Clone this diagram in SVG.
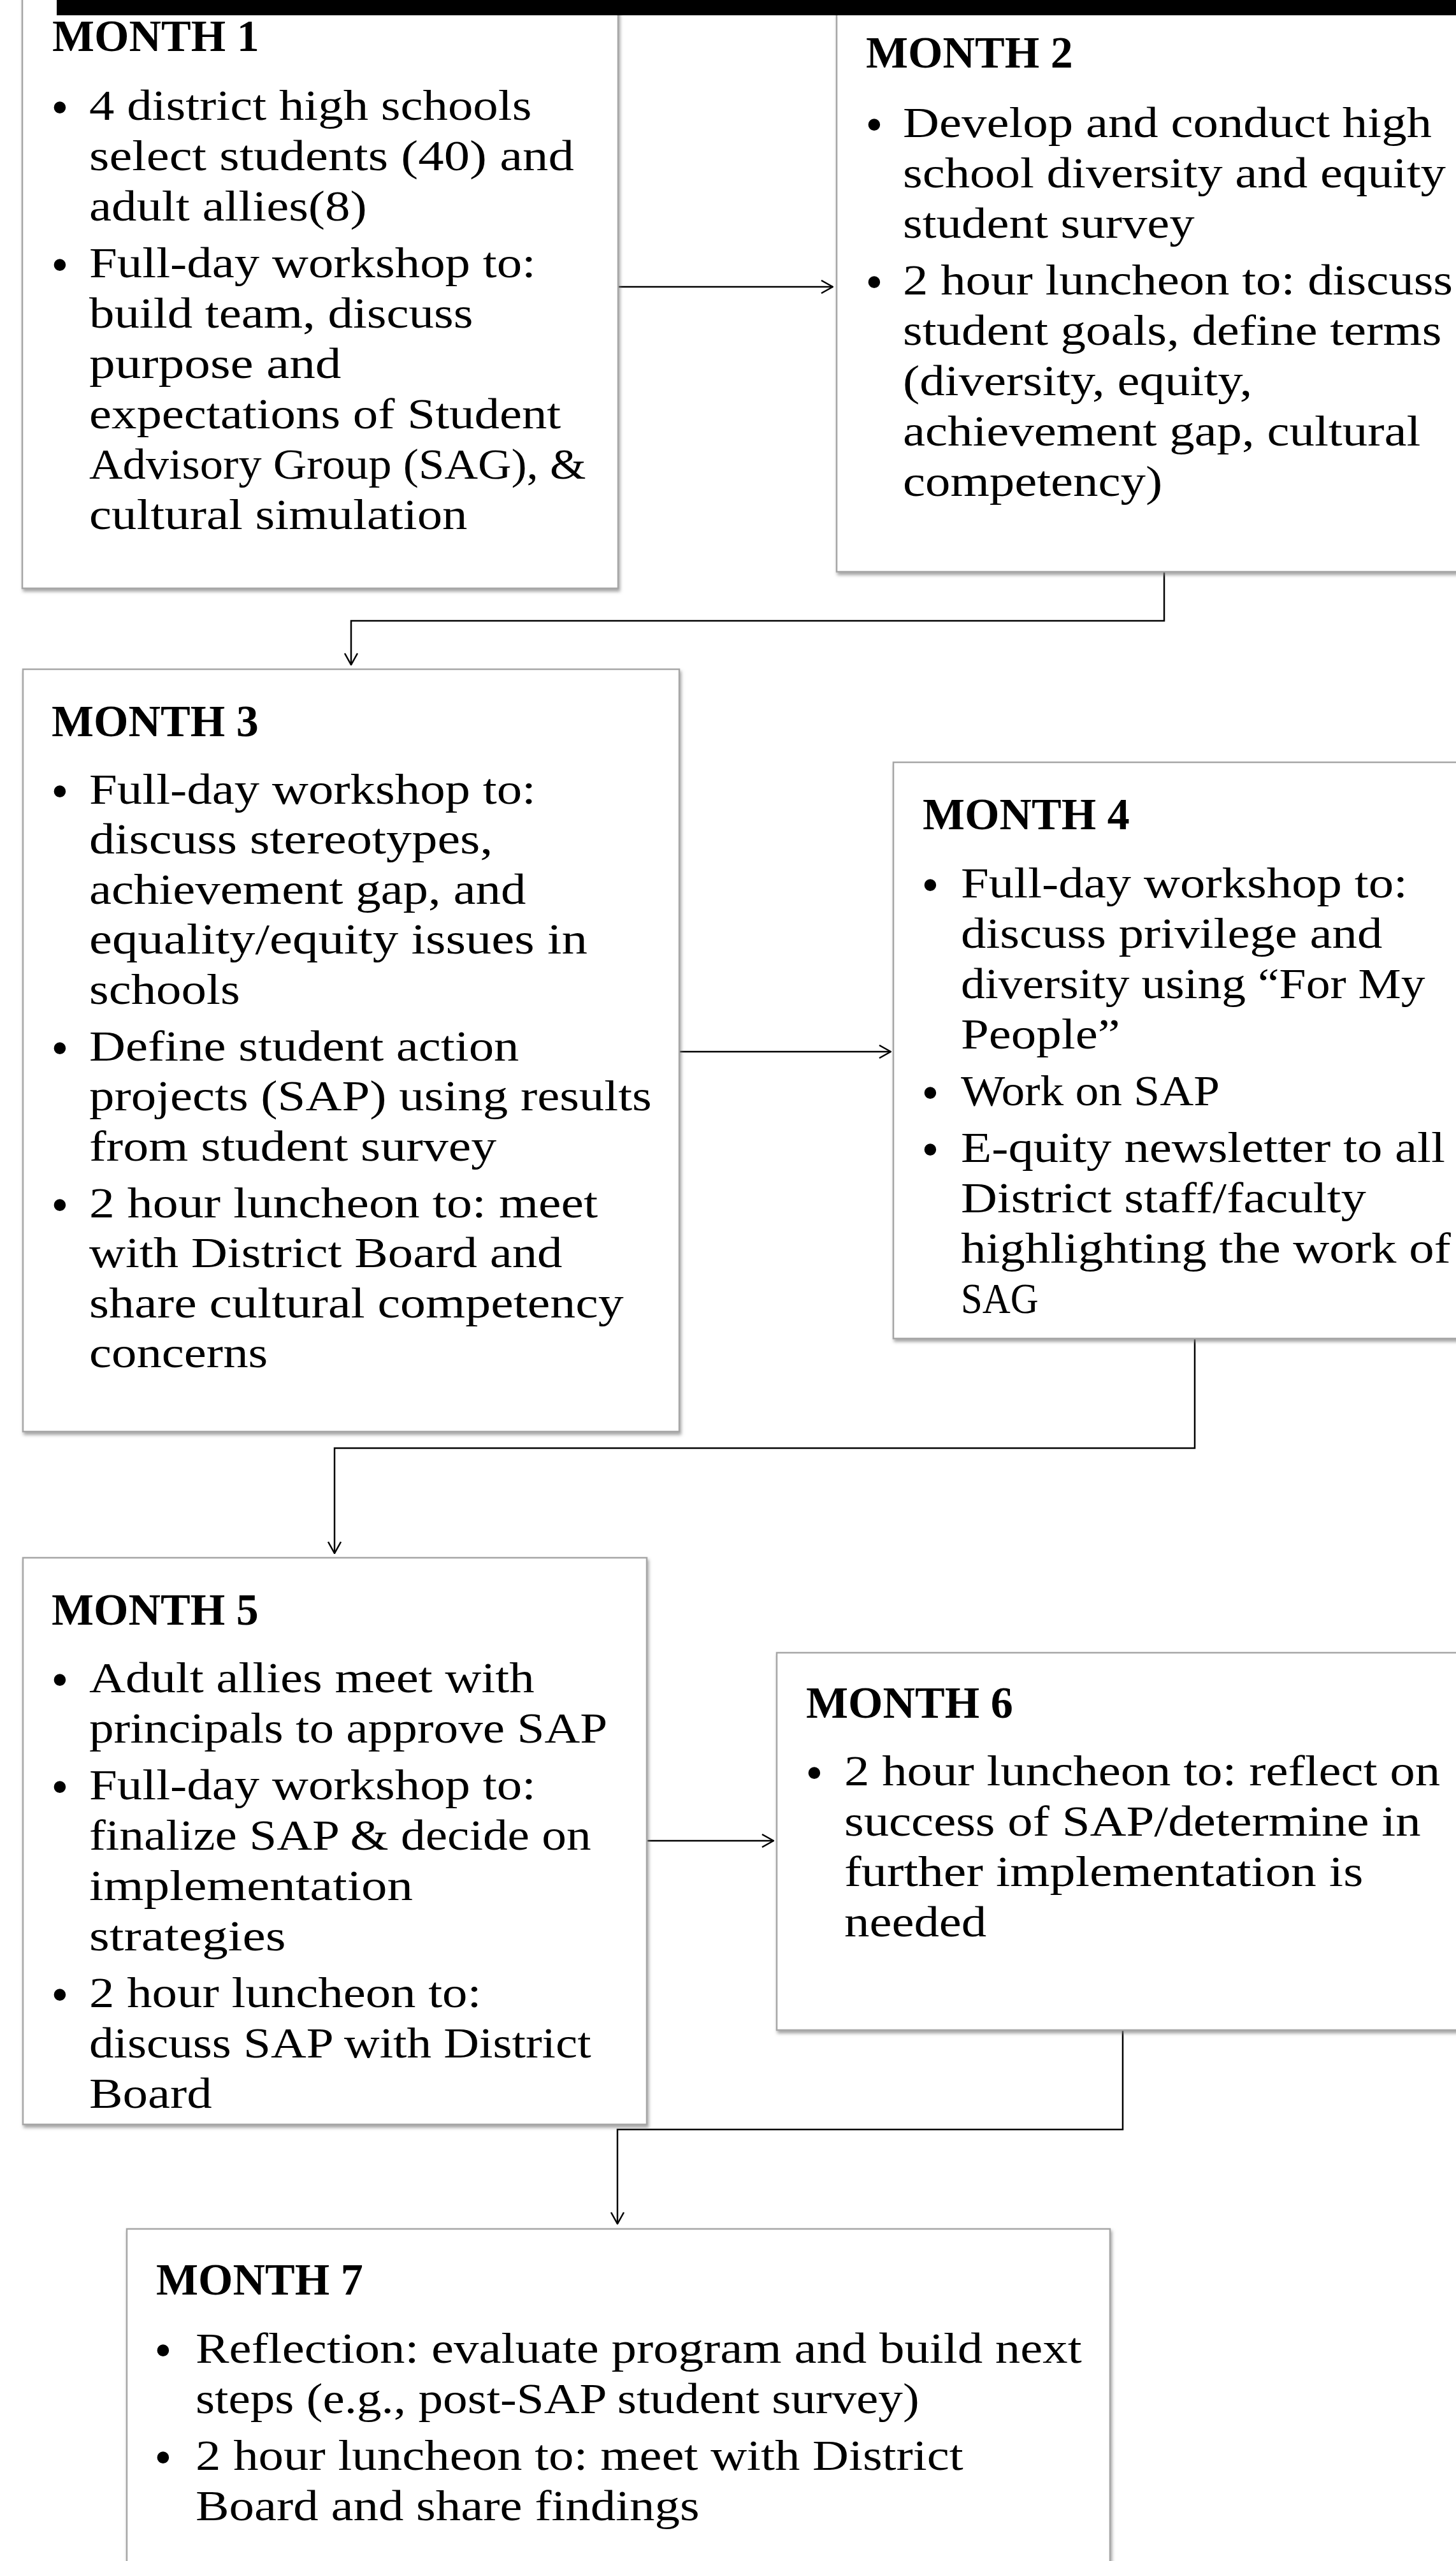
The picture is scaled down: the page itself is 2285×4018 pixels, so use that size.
<svg xmlns="http://www.w3.org/2000/svg" width="2285" height="4018" viewBox="0 0 2285 4018">
<defs>
<style>
.box{fill:#fff;stroke:#a6a6a6;stroke-width:2.5;filter:url(#sh)}
.t{font-family:"Liberation Serif","Times New Roman",serif;font-weight:bold;font-size:70px;fill:#000}
.b{font-family:"Liberation Serif","Times New Roman",serif;font-size:68px;fill:#000}
.dot{font-family:"Liberation Serif","Times New Roman",serif;font-size:78px;fill:#000;text-anchor:middle}
.c{fill:none;stroke:#000;stroke-width:2.5;marker-end:url(#ah)}
</style>
<filter id="sh" x="-5%" y="-5%" width="115%" height="115%">
<feDropShadow dx="2" dy="4" stdDeviation="2.5" flood-color="#7f7f7f" flood-opacity="0.7"/>
</filter>
<marker id="ah" viewBox="0 0 20 22" refX="19" refY="11" markerWidth="20" markerHeight="22" markerUnits="userSpaceOnUse" orient="auto">
<path d="M1,1 L19,11 L1,21" fill="none" stroke="#000" stroke-width="2.5"/>
</marker>
</defs>
<rect width="2285" height="4018" fill="#fff"/>

<g id="connectors">
<path class="c" d="M970,450 H1307"/>
<path class="c" d="M1827,897 V974 H551 V1043"/>
<path class="c" d="M1066,1650 H1398"/>
<path class="c" d="M1875,2100 V2272 H525 V2437"/>
<path class="c" d="M1015,2888 H1214"/>
<path class="c" d="M1762,3185 V3341 H969 V3489"/>
</g>

<g id="month1">
<rect class="box" x="35" y="-20" width="935" height="943"/>
<text class="t" x="82" y="80">MONTH 1</text>
<text class="dot" x="94" y="195">•</text>
<text class="dot" x="94" y="442">•</text>
<text class="b" transform="translate(140 0) scale(1.16 1)"><tspan x="0" y="188">4 district high schools</tspan><tspan x="0" y="267" textLength="656" lengthAdjust="spacingAndGlyphs">select students (40) and</tspan><tspan x="0" y="346">adult allies(8)</tspan><tspan x="0" y="435">Full-day workshop to:</tspan><tspan x="0" y="514">build team, discuss</tspan><tspan x="0" y="593" textLength="341" lengthAdjust="spacingAndGlyphs">purpose and</tspan><tspan x="0" y="672">expectations of Student</tspan><tspan x="0" y="751" textLength="672" lengthAdjust="spacingAndGlyphs">Advisory Group (SAG), &amp;</tspan><tspan x="0" y="830">cultural simulation</tspan></text>
</g>

<g id="month2">
<rect class="box" x="1313" y="-20" width="1000" height="917"/>
<text class="t" x="1359" y="106">MONTH 2</text>
<text class="dot" x="1372" y="222">•</text>
<text class="dot" x="1372" y="469">•</text>
<text class="b" transform="translate(1417 0) scale(1.16 1)"><tspan x="0" y="215">Develop and conduct high</tspan><tspan x="0" y="294">school diversity and equity</tspan><tspan x="0" y="373">student survey</tspan><tspan x="0" y="462">2 hour luncheon to: discuss</tspan><tspan x="0" y="541">student goals, define terms</tspan><tspan x="0" y="620">(diversity, equity,</tspan><tspan x="0" y="699">achievement gap, cultural</tspan><tspan x="0" y="778">competency)</tspan></text>
</g>

<g id="month3">
<rect class="box" x="36" y="1050" width="1030" height="1196"/>
<text class="t" x="81" y="1155">MONTH 3</text>
<text class="dot" x="94" y="1268">•</text>
<text class="dot" x="94" y="1671">•</text>
<text class="dot" x="94" y="1917">•</text>
<text class="b" transform="translate(140 0) scale(1.16 1)"><tspan x="0" y="1261">Full-day workshop to:</tspan><tspan x="0" y="1339.5" textLength="546" lengthAdjust="spacingAndGlyphs">discuss stereotypes,</tspan><tspan x="0" y="1418">achievement gap, and</tspan><tspan x="0" y="1496.5" textLength="674" lengthAdjust="spacingAndGlyphs">equality/equity issues in</tspan><tspan x="0" y="1575">schools</tspan><tspan x="0" y="1664">Define student action</tspan><tspan x="0" y="1742.5">projects (SAP) using results</tspan><tspan x="0" y="1821" textLength="551" lengthAdjust="spacingAndGlyphs">from student survey</tspan><tspan x="0" y="1910" textLength="688" lengthAdjust="spacingAndGlyphs">2 hour luncheon to: meet</tspan><tspan x="0" y="1988.5">with District Board and</tspan><tspan x="0" y="2067" textLength="723" lengthAdjust="spacingAndGlyphs">share cultural competency</tspan><tspan x="0" y="2145.5">concerns</tspan></text>
</g>

<g id="month4">
<rect class="box" x="1402" y="1196" width="910" height="904"/>
<text class="t" x="1448" y="1301">MONTH 4</text>
<text class="dot" x="1460" y="1415">•</text>
<text class="dot" x="1460" y="1741">•</text>
<text class="dot" x="1460" y="1830">•</text>
<text class="b" transform="translate(1508 0) scale(1.16 1)"><tspan x="0" y="1408">Full-day workshop to:</tspan><tspan x="0" y="1487">discuss privilege and</tspan><tspan x="0" y="1566" textLength="628" lengthAdjust="spacingAndGlyphs">diversity using “For My</tspan><tspan x="0" y="1645">People”</tspan><tspan x="0" y="1734" textLength="350" lengthAdjust="spacingAndGlyphs">Work on SAP</tspan><tspan x="0" y="1823">E-quity newsletter to all</tspan><tspan x="0" y="1902">District staff/faculty</tspan><tspan x="0" y="1981">highlighting the work of</tspan><tspan x="0" y="2060" textLength="105" lengthAdjust="spacingAndGlyphs">SAG</tspan></text>
</g>

<g id="month5">
<rect class="box" x="36" y="2444" width="979" height="889"/>
<text class="t" x="81" y="2549">MONTH 5</text>
<text class="dot" x="94" y="2662">•</text>
<text class="dot" x="94" y="2830">•</text>
<text class="dot" x="94" y="3156">•</text>
<text class="b" transform="translate(140 0) scale(1.16 1)"><tspan x="0" y="2655">Adult allies meet with</tspan><tspan x="0" y="2734" textLength="701" lengthAdjust="spacingAndGlyphs">principals to approve SAP</tspan><tspan x="0" y="2823">Full-day workshop to:</tspan><tspan x="0" y="2902" textLength="679" lengthAdjust="spacingAndGlyphs">finalize SAP &amp; decide on</tspan><tspan x="0" y="2981" textLength="438" lengthAdjust="spacingAndGlyphs">implementation</tspan><tspan x="0" y="3060" textLength="266" lengthAdjust="spacingAndGlyphs">strategies</tspan><tspan x="0" y="3149">2 hour luncheon to:</tspan><tspan x="0" y="3228" textLength="679" lengthAdjust="spacingAndGlyphs">discuss SAP with District</tspan><tspan x="0" y="3307">Board</tspan></text>
</g>

<g id="month6">
<rect class="box" x="1219" y="2593" width="1093" height="592"/>
<text class="t" x="1265" y="2695">MONTH 6</text>
<text class="dot" x="1278" y="2808">•</text>
<text class="b" transform="translate(1325 0) scale(1.16 1)"><tspan x="0" y="2801">2 hour luncheon to: reflect on</tspan><tspan x="0" y="2880">success of SAP/determine in</tspan><tspan x="0" y="2959" textLength="702" lengthAdjust="spacingAndGlyphs">further implementation is</tspan><tspan x="0" y="3038">needed</tspan></text>
</g>

<g id="month7">
<rect class="box" x="199" y="3497" width="1543" height="560"/>
<text class="t" x="245" y="3600">MONTH 7</text>
<text class="dot" x="256" y="3714">•</text>
<text class="dot" x="256" y="3882">•</text>
<text class="b" transform="translate(307 0) scale(1.16 1)"><tspan x="0" y="3707">Reflection: evaluate program and build next</tspan><tspan x="0" y="3786" textLength="979" lengthAdjust="spacingAndGlyphs">steps (e.g., post-SAP student survey)</tspan><tspan x="0" y="3875">2 hour luncheon to: meet with District</tspan><tspan x="0" y="3954">Board and share findings</tspan></text>
</g>

<rect id="topbar" x="89" y="0" width="2196" height="24" fill="#000"/>
</svg>
